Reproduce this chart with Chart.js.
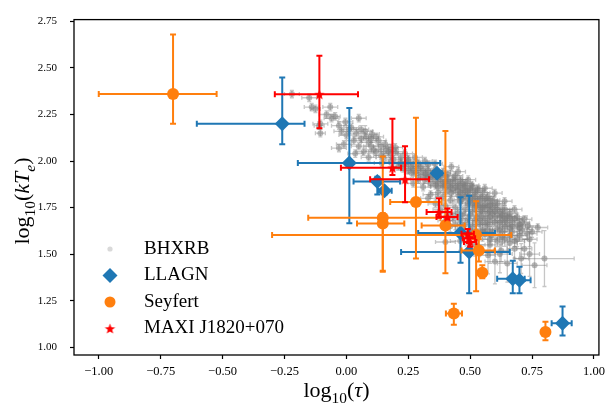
<!DOCTYPE html>
<html>
<head>
<meta charset="utf-8">
<script src="https://cdn.jsdelivr.net/npm/chart.js@4.4.0/dist/chart.umd.min.js"></script>
<style>
  body { margin: 0; background: #fff; }
  #wrap { width: 610px; height: 407px; }
</style>
</head>
<body>
<div id="wrap"><canvas id="myChart"></canvas></div>
<script>
// tick labels
const xTicks = [-1.0, -0.75, -0.5, -0.25, 0, 0.25, 0.5, 0.75, 1.0];
const yTicks = [1.0, 1.25, 1.5, 1.75, 2.0, 2.25, 2.5, 2.75];

const seriesNames = ['BHXRB', 'LLAGN', 'Seyfert', 'MAXI J1820+070'];

// BHXRB (log tau, log kTe, symmetric errors)
const bhxrbX = [
  -0.22, -0.15, -0.14, -0.125, -0.065, -0.06, -0.045, -0.105, -0.11, -0.105,
  -0.02, -0.004, -0.01, -0.03, 0.02, 0.05, 0.036, 0.06, 0.076, 0.09,
  0.09, 0.103, 0.11, 0.13, 0.14, 0.143, 0.157, 0.17, 0.18, 0.197,
  0.21, 0.22, 0.237, 0.24, 0.25, 0.264, 0.27, 0.277, 0.29, 0.30,
  0.317, 0.317, 0.33, 0.34, 0.35, 0.358, 0.371, 0.38, 0.39, 0.40,
  0.41, 0.424, 0.424, 0.43, 0.44, 0.451, 0.455, 0.465, 0.47, 0.48,
  0.492, 0.50, 0.505, 0.518, 0.52, 0.53, 0.545, 0.55, 0.559, 0.565,
  0.572, 0.58, 0.585, 0.59, 0.599, 0.60, 0.61, 0.62, 0.625, 0.63,
  0.639, 0.639, 0.639, 0.65, 0.66, 0.67, 0.679, 0.679, 0.693, 0.70,
  0.706, 0.719, 0.719, 0.733, 0.74, 0.773, 0.80, 0.572, 0.60, 0.62,
  0.65, 0.74, 0.76, 0.46, 0.40, 0.52, 0.55, 0.50, 0.58,
  -0.08, -0.03, 0.0, 0.01, 0.03, 0.04, 0.05, 0.07, 0.08, 0.10,
  0.12, 0.12, 0.15, 0.16, 0.18, 0.19, 0.20, 0.22, 0.23, 0.25,
  0.26, 0.28, 0.29, 0.31, 0.32, 0.33, 0.34, 0.36, 0.36, 0.37,
  0.39, 0.40, 0.41, 0.42, 0.44, 0.45, 0.46, 0.47, 0.48, 0.49,
  0.50, 0.51, 0.52, 0.53, 0.54, 0.55, 0.56, 0.57, 0.58, 0.59,
  0.60, 0.61, 0.62, 0.63, 0.64, 0.65, 0.66, 0.67, 0.69, 0.70,
  0.71, 0.73, 0.75, 0.69, 0.66, 0.63, 0.56, 0.54, 0.57,
  0.22, 0.25, 0.27, 0.30, 0.32, 0.33, 0.35, 0.36, 0.38, 0.39,
  0.40, 0.41, 0.42, 0.43, 0.44, 0.45, 0.46, 0.46, 0.47, 0.48,
  0.48, 0.49, 0.50, 0.51, 0.51, 0.52, 0.53, 0.53, 0.54, 0.55,
  0.55, 0.56, 0.57, 0.58, 0.58, 0.59, 0.60, 0.61, 0.62, 0.63,
  0.64, 0.66, 0.67, 0.68, 0.70, 0.71, 0.06, 0.10, 0.14, 0.18,
  0.34, 0.36, 0.37, 0.38, 0.39, 0.40, 0.41, 0.42, 0.43, 0.44,
  0.44, 0.45, 0.46, 0.46, 0.47, 0.47, 0.48, 0.48, 0.49, 0.49,
  0.50, 0.50, 0.51, 0.51, 0.52, 0.52, 0.53, 0.53, 0.54, 0.54,
  0.55, 0.56, 0.56, 0.57, 0.58, 0.58, 0.59, 0.60, 0.61, 0.62,
  0.63, 0.64, 0.66, 0.68, 0.31, 0.29, 0.27, 0.33, 0.40, 0.42
];
const bhxrbY = [
  2.36, 2.34, 2.29, 2.28, 2.29, 2.23, 2.24, 2.20, 2.19, 2.15,
  2.16, 2.21, 2.09, 2.07, 2.18, 2.23, 2.04, 2.12, 2.16, 2.02,
  2.10, 2.145, 2.06, 2.11, 2.03, 1.99, 2.09, 2.05, 2.00, 2.074,
  1.97, 2.02, 2.04, 1.99, 1.95, 1.934, 1.98, 2.02, 1.96, 1.92,
  2.00, 1.90, 1.95, 1.88, 1.92, 1.985, 1.863, 1.90, 1.94, 1.87,
  1.84, 1.97, 1.828, 1.90, 1.86, 1.943, 1.81, 1.793, 1.88, 1.84,
  1.90, 1.80, 1.87, 1.758, 1.83, 1.79, 1.705, 1.75, 1.854, 1.80,
  1.758, 1.68, 1.60, 1.72, 1.828, 1.77, 1.64, 1.70, 1.52, 1.74,
  1.784, 1.705, 1.582, 1.66, 1.72, 1.62, 1.74, 1.529, 1.652, 1.60,
  1.476, 1.687, 1.529, 1.652, 1.58, 1.643, 1.476, 1.494, 1.46, 1.50,
  1.45, 1.50, 1.44, 1.57, 1.565, 1.55, 1.62, 1.63, 1.55,
  2.25, 2.19, 2.14, 2.17, 2.11, 2.15, 2.08, 2.05, 2.13, 2.08,
  2.05, 2.13, 2.02, 2.06, 2.04, 2.01, 2.05, 1.99, 1.96, 2.01,
  1.97, 1.94, 1.99, 1.95, 1.93, 1.98, 1.92, 1.89, 1.95, 1.91,
  1.88, 1.92, 1.895, 1.86, 1.90, 1.84, 1.87, 1.82, 1.865, 1.83,
  1.85, 1.81, 1.78, 1.84, 1.76, 1.80, 1.77, 1.72, 1.79, 1.75,
  1.70, 1.74, 1.67, 1.71, 1.65, 1.70, 1.64, 1.68, 1.70, 1.66,
  1.63, 1.61, 1.62, 1.58, 1.56, 1.62, 1.66, 1.68, 1.63,
  1.98, 2.00, 1.95, 1.97, 1.93, 1.91, 1.94, 1.87, 1.92, 1.86,
  1.89, 1.93, 1.88, 1.85, 1.92, 1.87, 1.83, 1.90, 1.85, 1.81,
  1.88, 1.84, 1.79, 1.86, 1.77, 1.81, 1.85, 1.76, 1.80, 1.73,
  1.83, 1.75, 1.81, 1.70, 1.76, 1.79, 1.73, 1.77, 1.72, 1.68,
  1.74, 1.70, 1.65, 1.69, 1.64, 1.67, 2.17, 2.12, 2.08, 2.07,
  1.82, 1.77, 1.83, 1.74, 1.81, 1.76, 1.72, 1.79, 1.70, 1.75,
  1.66, 1.72, 1.68, 1.78, 1.64, 1.71, 1.74, 1.66, 1.69, 1.77,
  1.62, 1.71, 1.65, 1.73, 1.68, 1.62, 1.70, 1.60, 1.66, 1.73,
  1.63, 1.69, 1.61, 1.66, 1.58, 1.73, 1.62, 1.67, 1.57, 1.63,
  1.59, 1.68, 1.60, 1.57, 1.86, 1.90, 1.88, 1.80, 1.68, 1.65
];
const bhxrbXErr = [
  0.03, 0.03, 0.03, 0.02, 0.03, 0.03, 0.02, 0.03, 0.02, 0.02,
  0.03, 0.03, 0.03, 0.03, 0.03, 0.03, 0.03, 0.03, 0.03, 0.03,
  0.03, 0.03, 0.03, 0.03, 0.03, 0.03, 0.03, 0.03, 0.03, 0.03,
  0.03, 0.03, 0.03, 0.03, 0.03, 0.03, 0.03, 0.03, 0.03, 0.03,
  0.03, 0.03, 0.03, 0.03, 0.03, 0.03, 0.03, 0.03, 0.03, 0.03,
  0.03, 0.03, 0.03, 0.03, 0.03, 0.03, 0.03, 0.03, 0.03, 0.03,
  0.03, 0.03, 0.03, 0.03, 0.03, 0.03, 0.03, 0.03, 0.03, 0.03,
  0.03, 0.03, 0.03, 0.03, 0.03, 0.03, 0.03, 0.03, 0.03, 0.03,
  0.03, 0.03, 0.03, 0.03, 0.03, 0.03, 0.03, 0.03, 0.03, 0.03,
  0.03, 0.03, 0.03, 0.04, 0.03, 0.04, 0.12, 0.03, 0.04, 0.05,
  0.04, 0.04, 0.05, 0.04, 0.04, 0.04, 0.04, 0.03, 0.05,
  0.03, 0.03, 0.03, 0.03, 0.03, 0.03, 0.03, 0.03, 0.03, 0.03,
  0.03, 0.03, 0.03, 0.03, 0.03, 0.03, 0.03, 0.03, 0.03, 0.03,
  0.03, 0.03, 0.03, 0.03, 0.03, 0.03, 0.03, 0.03, 0.03, 0.03,
  0.03, 0.03, 0.03, 0.03, 0.03, 0.03, 0.03, 0.03, 0.03, 0.03,
  0.03, 0.03, 0.03, 0.03, 0.03, 0.03, 0.03, 0.03, 0.03, 0.03,
  0.03, 0.03, 0.03, 0.03, 0.03, 0.03, 0.03, 0.03, 0.04, 0.04,
  0.04, 0.04, 0.04, 0.04, 0.03, 0.03, 0.03, 0.03, 0.03,
  0.03, 0.03, 0.03, 0.03, 0.03, 0.03, 0.03, 0.03, 0.03, 0.03,
  0.03, 0.03, 0.03, 0.03, 0.03, 0.03, 0.03, 0.03, 0.03, 0.03,
  0.03, 0.03, 0.03, 0.03, 0.03, 0.03, 0.03, 0.03, 0.03, 0.03,
  0.03, 0.03, 0.03, 0.03, 0.03, 0.03, 0.03, 0.03, 0.03, 0.03,
  0.03, 0.03, 0.04, 0.03, 0.04, 0.03, 0.03, 0.03, 0.03, 0.03,
  0.03, 0.03, 0.03, 0.03, 0.03, 0.03, 0.03, 0.03, 0.03, 0.03,
  0.03, 0.03, 0.03, 0.03, 0.03, 0.03, 0.03, 0.03, 0.03, 0.03,
  0.03, 0.03, 0.03, 0.03, 0.03, 0.03, 0.03, 0.03, 0.03, 0.03,
  0.03, 0.03, 0.03, 0.03, 0.03, 0.03, 0.03, 0.03, 0.04, 0.03,
  0.03, 0.03, 0.04, 0.04, 0.03, 0.03, 0.03, 0.03, 0.03, 0.03
];
const bhxrbYErr = [
  0.02, 0.02, 0.02, 0.02, 0.02, 0.02, 0.02, 0.02, 0.02, 0.02,
  0.02, 0.02, 0.02, 0.02, 0.02, 0.02, 0.02, 0.02, 0.03, 0.02,
  0.02, 0.02, 0.02, 0.02, 0.02, 0.02, 0.02, 0.02, 0.02, 0.02,
  0.02, 0.02, 0.02, 0.02, 0.02, 0.02, 0.02, 0.02, 0.02, 0.02,
  0.02, 0.02, 0.02, 0.02, 0.02, 0.02, 0.02, 0.02, 0.02, 0.02,
  0.02, 0.02, 0.02, 0.02, 0.02, 0.02, 0.02, 0.02, 0.02, 0.02,
  0.02, 0.02, 0.02, 0.02, 0.02, 0.02, 0.02, 0.02, 0.02, 0.02,
  0.03, 0.03, 0.03, 0.02, 0.02, 0.02, 0.03, 0.02, 0.06, 0.02,
  0.02, 0.02, 0.04, 0.03, 0.02, 0.03, 0.02, 0.05, 0.03, 0.03,
  0.08, 0.02, 0.05, 0.02, 0.04, 0.02, 0.15, 0.10, 0.12, 0.10,
  0.10, 0.12, 0.12, 0.05, 0.05, 0.06, 0.05, 0.04, 0.10,
  0.02, 0.02, 0.02, 0.02, 0.02, 0.02, 0.02, 0.02, 0.02, 0.02,
  0.02, 0.02, 0.02, 0.02, 0.02, 0.02, 0.02, 0.02, 0.02, 0.02,
  0.02, 0.02, 0.02, 0.02, 0.02, 0.02, 0.02, 0.02, 0.02, 0.02,
  0.02, 0.02, 0.02, 0.02, 0.02, 0.02, 0.02, 0.02, 0.02, 0.02,
  0.02, 0.02, 0.02, 0.02, 0.02, 0.02, 0.02, 0.02, 0.02, 0.02,
  0.02, 0.02, 0.03, 0.02, 0.03, 0.02, 0.03, 0.02, 0.02, 0.03,
  0.03, 0.03, 0.03, 0.04, 0.04, 0.03, 0.03, 0.02, 0.03,
  0.02, 0.02, 0.02, 0.02, 0.02, 0.02, 0.02, 0.02, 0.02, 0.02,
  0.02, 0.02, 0.02, 0.02, 0.02, 0.02, 0.02, 0.02, 0.02, 0.02,
  0.02, 0.02, 0.02, 0.02, 0.02, 0.02, 0.02, 0.02, 0.02, 0.02,
  0.02, 0.02, 0.02, 0.03, 0.02, 0.02, 0.02, 0.02, 0.02, 0.03,
  0.02, 0.03, 0.03, 0.02, 0.03, 0.02, 0.02, 0.02, 0.02, 0.02,
  0.02, 0.02, 0.02, 0.02, 0.02, 0.02, 0.02, 0.02, 0.02, 0.02,
  0.03, 0.02, 0.02, 0.02, 0.03, 0.02, 0.02, 0.03, 0.02, 0.02,
  0.03, 0.02, 0.03, 0.02, 0.02, 0.03, 0.02, 0.03, 0.02, 0.02,
  0.03, 0.02, 0.03, 0.02, 0.03, 0.02, 0.03, 0.02, 0.03, 0.03,
  0.03, 0.02, 0.03, 0.03, 0.02, 0.02, 0.02, 0.02, 0.03, 0.03
];

// LLAGN
const llagnX   = [-0.259, 0.012, 0.125, 0.154, 0.366, 0.461, 0.496, 0.672, 0.699, 0.873];
const llagnY   = [2.201, 1.990, 1.890, 1.840, 1.935, 1.613, 1.512, 1.368, 1.359, 1.128];
const llagnXLo = [-0.604, -0.196, 0.029, 0.130, 0.350, 0.290, 0.221, 0.609, 0.680, 0.829];
const llagnXHi = [-0.169, 0.379, 0.217, 0.183, 0.385, 0.600, 0.660, 0.720, 0.744, 0.910];
const llagnYLo = [2.090, 1.666, 1.820, 1.820, 1.920, 1.454, 1.290, 1.290, 1.290, 1.063];
const llagnYHi = [2.449, 2.285, 1.916, 1.855, 1.950, 1.805, 1.814, 1.464, 1.432, 1.218];

// Seyfert
const seyX   = [-0.700, 0.147, 0.147, 0.281, 0.400, 0.524, 0.535, 0.549, 0.434, 0.804];
const seyY   = [2.360, 1.696, 1.665, 1.780, 1.654, 1.603, 1.520, 1.400, 1.181, 1.081];
const seyXLo = [-1.000, -0.154, 0.043, 0.177, 0.304, -0.300, 0.465, 0.535, 0.402, 0.790];
const seyXHi = [-0.524, 0.380, 0.234, 0.384, 0.478, 0.666, 0.600, 0.560, 0.467, 0.820];
const seyYLo = [2.200, 1.410, 1.405, 1.476, 1.397, 1.300, 1.460, 1.370, 1.120, 1.037];
const seyYHi = [2.680, 2.025, 1.720, 2.233, 2.162, 1.784, 1.580, 1.440, 1.234, 1.137];

// MAXI J1820+070
const maxiX   = [-0.109, 0.186, 0.237, 0.374, 0.408, 0.490, 0.495, 0.500];
const maxiY   = [2.359, 1.964, 1.902, 1.726, 1.700, 1.610, 1.585, 1.565];
const maxiXLo = [-0.289, -0.022, 0.096, 0.324, 0.364, 0.465, 0.470, 0.475];
const maxiXHi = [0.047, 0.221, 0.334, 0.425, 0.449, 0.515, 0.520, 0.525];
const maxiYLo = [2.176, 1.925, 1.779, 1.696, 1.687, 1.585, 1.560, 1.540];
const maxiYHi = [2.566, 2.227, 2.080, 1.800, 1.745, 1.635, 1.610, 1.590];

function toPoints(x, y, xLo, xHi, yLo, yHi) {
  return x.map((v, i) => ({ x: v, y: y[i], xMin: xLo[i], xMax: xHi[i], yMin: yLo[i], yMax: yHi[i] }));
}

// filled 5 point star, like matplotlib '*'
function makeStar(r, color) {
  const c = document.createElement('canvas');
  const s = Math.ceil(r * 2) + 2;
  c.width = s; c.height = s;
  const g = c.getContext('2d');
  g.fillStyle = color;
  g.beginPath();
  for (let i = 0; i < 10; i++) {
    const rad = i % 2 ? r * 0.42 : r;
    const a = -Math.PI / 2 + i * Math.PI / 5;
    g.lineTo(s / 2 + rad * Math.cos(a), s / 2 + 0.6 + rad * Math.sin(a));
  }
  g.closePath();
  g.fill();
  return c;
}
const starImg = makeStar(5.5, '#ff0000');

const serif = 'Liberation Serif';

// error bars under each dataset's markers
const errorBars = {
  id: 'errorBars',
  beforeDatasetDraw(chart, args) {
    const ds = chart.data.datasets[args.index];
    const xs = chart.scales.x, ys = chart.scales.y;
    const c = chart.ctx;
    const cap = ds.capSize;
    c.save();
    c.strokeStyle = ds.errColor;
    c.lineWidth = ds.errWidth;
    ds.data.forEach(p => {
      const px = xs.getPixelForValue(p.x), py = ys.getPixelForValue(p.y);
      const x0 = xs.getPixelForValue(p.xMin), x1 = xs.getPixelForValue(p.xMax);
      const y0 = ys.getPixelForValue(p.yMin), y1 = ys.getPixelForValue(p.yMax);
      c.beginPath();
      c.moveTo(x0, py); c.lineTo(x1, py);
      c.moveTo(px, y0); c.lineTo(px, y1);
      c.moveTo(x0, py - cap); c.lineTo(x0, py + cap);
      c.moveTo(x1, py - cap); c.lineTo(x1, py + cap);
      c.moveTo(px - cap, y0); c.lineTo(px + cap, y0);
      c.moveTo(px - cap, y1); c.lineTo(px + cap, y1);
      c.stroke();
    });
    c.restore();
  }
};

function drawMarker(c, ds, x, y) {
  c.save();
  c.fillStyle = ds.legendColor || ds.backgroundColor;
  if (ds.pointStyle === 'circle') {
    c.beginPath(); c.arc(x, y, ds.legendRadius, 0, Math.PI * 2); c.fill();
  } else if (ds.pointStyle === 'rectRot') {
    const r = ds.legendRadius;
    c.beginPath();
    c.moveTo(x, y - r); c.lineTo(x + r, y); c.lineTo(x, y + r); c.lineTo(x - r, y);
    c.closePath(); c.fill();
  } else {
    c.drawImage(ds.pointStyle, x - ds.pointStyle.width / 2, y - ds.pointStyle.height / 2);
  }
  c.restore();
}

// mixed roman / italic text with subscripts, e.g. log10(kTe)
function drawMath(c, parts, size) {
  let w = 0;
  parts.forEach(p => {
    c.font = (p.it ? 'italic ' : '') + (p.sub ? size * 0.7 : size) + 'px "' + serif + '"';
    p.w = c.measureText(p.t).width;
    w += p.w;
  });
  let x = -w / 2;
  parts.forEach(p => {
    c.font = (p.it ? 'italic ' : '') + (p.sub ? size * 0.7 : size) + 'px "' + serif + '"';
    c.fillText(p.t, x, p.sub ? size * 0.25 : 0);
    x += p.w;
  });
}

const frameAndText = {
  id: 'frameAndText',
  afterDatasetsDraw(chart) {
    const a = chart.chartArea, c = chart.ctx;
    c.save();
    c.strokeStyle = '#000';
    c.lineWidth = 1.3;
    c.strokeRect(a.left, a.top, a.right - a.left, a.bottom - a.top);
    c.restore();
  },
  afterDraw(chart) {
    const c = chart.ctx, a = chart.chartArea;
    c.save();
    c.fillStyle = '#000';
    c.textBaseline = 'alphabetic';
    // x title
    c.save();
    c.translate((a.left + a.right) / 2, 397);
    drawMath(c, [{ t: 'log' }, { t: '10', sub: true }, { t: '(' }, { t: 'τ', it: true }, { t: ')' }], 22);
    c.restore();
    // y title
    c.save();
    c.translate(29, 201);
    c.rotate(-Math.PI / 2);
    drawMath(c, [{ t: 'log' }, { t: '10', sub: true }, { t: '(' }, { t: 'kT', it: true }, { t: 'e', it: true, sub: true }, { t: ')' }], 22);
    c.restore();
    // legend, lower left inside the axes
    c.font = '19px "' + serif + '"';
    c.textBaseline = 'middle';
    chart.data.datasets.forEach((ds, i) => {
      const y = a.bottom - 106 + i * 26.5;
      drawMarker(c, ds, a.left + 36, y);
      c.fillStyle = '#000';
      c.fillText(ds.label, a.left + 70, y);
    });
    c.restore();
  }
};

const ctx = document.getElementById('myChart').getContext('2d');
const myChart = new Chart(ctx, {
  type: 'scatter',
  data: {
    datasets: [{
      label: seriesNames[0],
      data: toPoints(bhxrbX, bhxrbY,
        bhxrbX.map((v, i) => v - bhxrbXErr[i]), bhxrbX.map((v, i) => v + bhxrbXErr[i]),
        bhxrbY.map((v, i) => v - bhxrbYErr[i]), bhxrbY.map((v, i) => v + bhxrbYErr[i])),
      pointStyle: 'circle',
      pointRadius: 3,
      backgroundColor: 'rgba(128,128,128,0.55)',
      legendColor: 'rgba(128,128,128,0.3)',
      legendRadius: 2.6,
      borderWidth: 0,
      errColor: 'rgba(128,128,128,0.45)',
      errWidth: 1.3,
      capSize: 2,
      order: 4
    }, {
      label: seriesNames[1],
      data: toPoints(llagnX, llagnY, llagnXLo, llagnXHi, llagnYLo, llagnYHi),
      pointStyle: 'rectRot',
      pointRadius: 7.5,
      legendRadius: 7.5,
      backgroundColor: '#1f77b4',
      borderWidth: 0,
      errColor: '#1f77b4',
      errWidth: 2,
      capSize: 3,
      order: 3
    }, {
      label: seriesNames[2],
      data: toPoints(seyX, seyY, seyXLo, seyXHi, seyYLo, seyYHi),
      pointStyle: 'circle',
      pointRadius: 6,
      legendRadius: 5.5,
      backgroundColor: '#ff7f0e',
      borderWidth: 0,
      errColor: '#ff7f0e',
      errWidth: 2,
      capSize: 3,
      order: 2
    }, {
      label: seriesNames[3],
      data: toPoints(maxiX, maxiY, maxiXLo, maxiXHi, maxiYLo, maxiYHi),
      pointStyle: starImg,
      pointRadius: 5,
      backgroundColor: '#ff0000',
      borderWidth: 0,
      errColor: '#ff0000',
      errWidth: 2,
      capSize: 3,
      order: 1
    }]
  },
  options: {
    responsive: true,
    maintainAspectRatio: false,
    devicePixelRatio: 1,
    animation: false,
    events: [],
    layout: { padding: { top: 13, right: 9, left: 0, bottom: 0 } },
    plugins: {
      legend: { display: false },
      tooltip: { enabled: false }
    },
    scales: {
      x: {
        type: 'linear',
        min: -1.1,
        max: 1.02,
        afterBuildTicks: s => { s.ticks = xTicks.map(v => ({ value: v })); },
        afterFit: s => { s.height = 52; },
        ticks: {
          autoSkip: false,
          maxRotation: 0,
          padding: 5,
          color: '#000',
          font: { family: serif, size: 12.5 },
          callback: v => Number(v).toFixed(2).replace('-', '−')
        },
        grid: { display: true, drawOnChartArea: false, drawTicks: true, tickLength: 4, tickColor: '#000', tickWidth: 1.2 },
        border: { display: false }
      },
      y: {
        type: 'linear',
        min: 0.958,
        max: 2.76,
        afterBuildTicks: s => { s.ticks = yTicks.map(v => ({ value: v })); },
        afterFit: s => { s.width = 74; },
        ticks: {
          autoSkip: false,
          padding: 13,
          color: '#000',
          font: { family: serif, size: 11 },
          callback: v => Number(v).toFixed(2)
        },
        grid: { display: true, drawOnChartArea: false, drawTicks: true, tickLength: 4, tickColor: '#000', tickWidth: 1.2 },
        border: { display: false }
      }
    }
  },
  plugins: [errorBars, frameAndText]
});
</script>
</body>
</html>
